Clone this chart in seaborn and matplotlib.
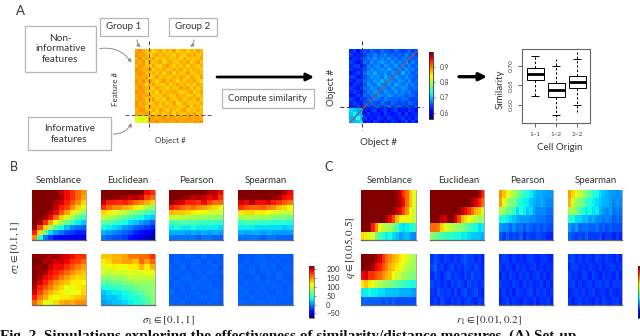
import numpy as np
import matplotlib
matplotlib.use("Agg")
import matplotlib.pyplot as plt
from matplotlib.cm import ScalarMappable
from matplotlib.colors import Normalize
from matplotlib.patches import FancyArrowPatch, Rectangle
import seaborn as sns

sns.set_theme(style="white")
plt.rcParams["font.family"] = ["Lato", "DejaVu Sans"]
plt.rcParams["mathtext.fontset"] = "stix"

# ---------- panel A matrices ----------
raw_features = [
 [78,80,77,74,76,72,75,78,73,76,74,79,72,75,77,73,76,74,78,75],
 [80,77,79,76,72,75,78,73,77,74,76,72,78,74,73,77,75,79,73,76],
 [77,81,76,78,75,79,72,76,74,78,73,75,77,72,79,74,76,73,75,78],
 [79,76,80,73,77,74,76,79,72,75,78,74,73,77,75,78,72,76,79,74],
 [76,79,78,75,73,78,74,72,77,79,75,73,76,74,78,72,77,75,73,76],
 [81,77,75,77,79,72,76,75,78,73,74,78,75,79,72,76,74,78,76,73],
 [78,80,79,74,75,77,73,78,72,76,79,72,77,73,75,79,73,74,77,75],
 [77,78,76,79,72,74,79,73,76,75,73,77,74,78,76,72,78,75,73,79],
 [80,76,81,75,78,76,72,77,79,74,78,75,72,76,73,77,75,79,74,72],
 [79,78,77,72,76,79,75,74,73,78,72,76,79,74,77,73,76,72,78,75],
 [76,81,78,77,74,73,78,76,75,72,77,74,73,79,75,78,72,77,74,76],
 [80,77,79,75,73,76,72,79,74,77,75,78,76,72,74,76,79,73,75,78],
 [78,79,76,78,77,74,75,73,78,76,72,74,79,75,77,73,74,78,72,76],
 [77,80,78,74,76,79,73,75,72,79,76,73,75,78,72,76,77,74,79,73],
 [81,76,79,76,72,75,78,74,77,73,75,79,72,74,78,75,73,76,74,77],
 [79,78,77,73,78,74,76,72,75,78,74,76,77,73,75,79,72,78,75,74],
 [77,80,80,75,74,77,73,79,76,72,78,75,73,76,79,74,76,73,77,75],
 [78,76,78,79,76,72,75,77,73,75,79,72,78,74,73,77,75,79,74,76],
 [66,65,67,66,78,79,77,78,80,77,78,79,76,78,77,79,78,76,79,77],
 [66,67,65,66,79,78,80,77,78,79,77,78,80,77,79,78,77,79,78,80],
]
raw_similarity = [
 [63,64,62,64,65,64,66,65,64,66,65,65,64,66,65,64,65,66,64,65],
 [64,62,63,63,64,66,65,67,65,66,67,65,66,65,66,65,67,65,66,64],
 [62,64,63,64,65,67,66,68,66,67,66,68,66,67,65,67,66,66,65,66],
 [64,63,62,63,66,65,68,66,67,68,67,66,68,66,67,66,68,65,67,65],
 [63,64,64,62,64,67,66,67,68,66,68,67,66,68,66,67,66,67,65,66],
 [64,62,63,64,65,66,68,66,67,68,66,69,67,66,68,66,68,66,67,65],
 [62,63,64,63,66,68,67,69,66,67,68,66,68,67,66,69,66,67,65,66],
 [64,64,62,63,65,66,68,67,68,66,69,67,66,68,67,66,68,66,66,65],
 [63,62,64,64,66,67,66,68,67,69,67,68,67,66,68,67,66,68,65,66],
 [62,64,63,62,65,68,67,66,69,67,66,68,66,69,67,66,68,66,67,65],
 [64,63,62,64,66,66,68,67,66,68,67,66,68,67,66,68,67,65,66,66],
 [63,64,63,62,65,67,66,68,67,66,68,67,66,68,66,67,66,67,65,65],
 [62,62,64,63,66,65,67,66,68,67,66,68,67,66,67,66,65,66,66,64],
 [64,63,62,64,64,66,65,67,66,65,67,66,65,66,65,66,66,65,64,65],
 [63,64,63,62,65,64,66,65,64,66,65,64,66,65,64,65,64,66,65,64],
 [62,63,64,63,64,65,64,65,66,64,65,66,64,65,66,64,65,64,64,65],
 [71,70,69,70,63,62,63,64,62,63,64,62,63,64,62,63,62,64,63,62],
 [70,72,70,69,62,64,62,63,63,62,64,63,62,63,64,62,64,62,63,63],
 [69,70,73,70,64,62,63,62,64,63,62,64,63,62,63,64,62,63,62,64],
 [70,69,70,71,62,63,62,64,63,62,63,62,64,63,62,63,64,62,64,62],
]

# ---------- panel A box plot ----------
box_groups = ["1~1", "1~2", "2~2"]
box1_vals = [0.6216, 0.6629, 0.6793, 0.6948, 0.7267]
box2_vals = [0.5603, 0.6207, 0.6379, 0.6552, 0.7172]
box3_vals = [0.5819, 0.6440, 0.6595, 0.6750, 0.7371]
cap_groups = ["1~1", "1~1", "1~2", "1~2", "2~2", "2~2"]
cap_vals = [0.6216, 0.7267, 0.5733, 0.7009, 0.5991, 0.7181]
box_ticks = [0.60, 0.65, 0.70]

# ---------- panel B ----------
b_sem_top = [
 [220,220,220,220,220,185,175,165,150,140],
 [220,220,220,220,220,190,175,165,150,135],
 [220,220,220,220,190,180,170,155,140,120],
 [220,220,220,200,185,170,160,140,120,105],
 [220,220,220,190,175,155,135,115,95,80],
 [220,220,190,175,150,120,100,85,65,55],
 [220,190,165,135,110,85,70,55,40,30],
 [195,160,120,90,60,45,30,15,10,5],
 [170,120,70,35,20,10,0,-5,-10,-10],
 [140,50,10,-5,-15,-20,-20,-25,-25,-30],
]
b_euc_top = [
 [220,220,220,220,220,220,220,220,175,165],
 [220,205,195,195,190,185,190,180,160,150],
 [185,170,170,165,170,160,150,140,130,120],
 [165,150,140,140,130,125,115,105,90,80],
 [120,115,105,100,95,85,75,70,60,50],
 [95,90,85,75,65,60,50,45,35,30],
 [70,65,55,50,45,35,30,20,15,5],
 [45,40,35,30,20,15,5,0,-5,-10],
 [25,20,15,10,5,0,-10,-15,-20,-30],
 [10,5,0,0,-5,-15,-20,-25,-35,-40],
]
b_pea_top = [
 [220,220,220,220,220,220,220,190,190,175],
 [220,210,195,195,185,190,185,175,180,165],
 [195,185,180,170,170,165,175,160,150,150],
 [170,160,150,145,150,140,135,125,120,110],
 [130,125,125,120,115,110,110,100,100,100],
 [95,95,90,90,85,80,85,80,80,75],
 [60,60,65,60,60,60,55,55,55,50],
 [40,45,40,40,45,40,40,40,40,35],
 [25,25,25,20,25,20,25,20,25,20],
 [10,10,10,10,10,5,10,10,5,5],
]
b_spe_top = [
 [220,220,220,220,220,220,220,220,190,175],
 [220,220,220,220,220,220,195,190,175,170],
 [180,175,190,175,175,180,170,165,155,145],
 [165,155,150,150,155,145,140,125,120,110],
 [115,120,120,115,115,110,105,100,95,100],
 [85,90,85,85,80,85,75,75,75,70],
 [55,60,60,55,55,55,50,50,50,45],
 [40,40,40,35,35,35,35,35,30,35],
 [25,20,25,25,20,25,20,20,20,20],
 [10,10,10,10,5,10,10,5,5,5],
]
b_sem_bot = [
 [220,195,195,190,195,185,180,175,165,165],
 [220,205,190,190,180,185,175,165,160,150],
 [220,195,205,185,175,175,165,155,145,135],
 [210,195,190,175,170,160,150,140,130,125],
 [205,190,175,170,160,145,135,125,120,120],
 [195,180,170,155,140,130,125,115,115,110],
 [190,170,155,145,130,120,110,105,115,120],
 [180,160,140,130,120,115,105,110,110,120],
 [170,145,130,115,110,115,115,120,125,130],
 [150,130,110,105,120,130,135,130,140,140],
]
b_euc_bot = [
 [125,125,130,130,135,145,145,150,150,165],
 [115,120,130,130,135,135,125,150,135,150],
 [105,110,115,110,110,115,115,130,115,130],
 [100,95,100,100,100,110,100,105,110,110],
 [80,80,85,85,90,95,95,95,95,95],
 [65,65,70,70,75,80,85,85,85,85],
 [45,50,55,55,60,65,70,75,75,80],
 [30,35,40,40,45,50,60,65,75,80],
 [25,30,30,35,40,45,45,55,65,75],
 [20,25,30,30,35,40,45,50,60,75],
]
b_pea_bot = [
 [3,5,2,6,4,1,7,2,5,3],
 [2,6,4,3,5,7,2,6,1,4],
 [5,3,7,2,6,4,5,3,6,2],
 [4,6,3,5,2,6,3,7,4,5],
 [6,2,5,7,4,3,6,2,5,1],
 [3,7,4,5,6,7,4,5,2,4],
 [5,4,6,2,7,3,5,6,4,3],
 [7,3,5,4,5,6,2,4,6,5],
 [4,6,3,6,2,5,7,3,5,4],
 [6,5,7,3,5,4,3,6,4,2],
]
b_spe_bot = [
 [2,4,3,6,5,2,6,3,5,4],
 [3,6,2,4,6,5,3,5,2,3],
 [6,3,5,3,7,4,6,2,5,4],
 [4,5,7,2,3,6,4,6,3,5],
 [5,2,4,6,1,5,3,7,4,2],
 [3,6,3,5,4,7,5,4,6,3],
 [6,4,5,3,6,3,6,5,2,5],
 [4,7,2,6,5,4,2,6,4,6],
 [5,3,6,4,3,6,5,3,6,3],
 [7,5,4,5,6,4,6,4,3,4],
]

# ---------- panel C ----------
c_sem_top = [
 [220,220,220,220,220,220,220,220,220,220,195,180,165,150,125,105],
 [220,220,220,220,220,220,220,220,220,220,195,190,175,150,125,105],
 [220,220,220,220,220,220,220,220,220,195,185,175,160,140,110,100],
 [220,220,220,220,220,220,220,190,175,160,130,115,105,115,110,95],
 [220,220,220,170,140,110,95,90,85,75,60,40,35,40,45,50],
 [120,115,100,110,70,60,50,40,45,35,30,20,25,30,20,15],
]
c_euc_top = [
 [220,220,220,220,220,220,220,220,220,220,220,220,220,220,190,170],
 [220,220,220,220,220,220,220,220,220,220,220,220,190,180,170,150],
 [220,220,220,220,220,220,220,220,195,185,175,165,150,130,125,105],
 [220,220,220,185,180,220,220,180,160,130,120,110,100,95,85,85],
 [150,150,145,120,105,100,90,85,80,75,70,60,50,45,35,40],
 [80,70,65,60,55,50,50,45,45,40,40,35,30,30,30,25],
]
c_pea_top = [
 [140,125,110,100,90,75,65,50,45,40,30,25,25,20,20,20],
 [135,105,90,75,75,60,45,40,40,30,25,20,25,20,15,15],
 [90,85,70,65,55,35,50,40,30,35,20,15,15,15,10,10],
 [45,45,40,35,30,25,20,20,20,15,15,10,10,10,5,5],
 [20,15,15,5,15,5,10,0,10,5,0,5,0,5,0,0],
 [5,-5,5,-5,0,-5,5,-10,0,-5,-5,0,-5,-5,-10,-10],
]
c_spe_top = [
 [135,120,105,95,85,75,60,50,45,35,30,25,20,20,15,20],
 [130,100,85,75,70,55,45,40,35,30,25,25,20,15,20,15],
 [85,90,75,60,50,40,45,35,40,25,20,15,20,10,15,10],
 [50,45,35,35,25,30,20,25,15,15,10,15,10,5,10,5],
 [20,10,20,5,10,10,5,5,10,0,5,0,5,0,0,0],
 [5,0,-5,0,-5,5,-5,-5,-5,0,-10,-5,-5,-10,-5,-10],
]
c_sem_bot = [
 [220,220,220,205,190,180,165,150,140,130,125,115,110,105,95,85],
 [220,220,205,190,175,170,155,145,130,125,115,110,100,95,85,85],
 [175,180,165,165,155,150,140,130,125,110,100,95,85,85,75,75],
 [115,125,115,105,95,90,85,80,75,70,65,60,55,50,45,45],
 [40,40,45,40,40,35,35,30,30,30,30,25,25,25,25,20],
 [5,5,5,5,5,5,0,5,0,5,0,0,0,0,0,0],
]
c_euc_bot = [
 [-7,1,-4,-9,-1,-7,-10,-3,-8,-1,3,-5,-2,-9,-4,-10],
 [-3,5,-7,-2,-9,-5,-1,-10,-4,-7,0,-3,-8,-1,-6,-9],
 [-9,-1,-5,-10,-3,1,-8,-4,-6,-10,-2,-7,1,-5,-3,-8],
 [0,-7,-3,-8,-4,-10,-2,-7,0,-5,-9,-1,-6,-3,-8,-5],
 [-5,-9,1,-4,-8,-3,-9,-1,-10,-3,1,-7,-4,0,-7,-10],
 [-8,-3,-10,-1,-6,-9,-4,-8,-3,-9,-5,-2,-7,-9,-2,-7],
]
c_pea_bot = [
 [-7,-2,-5,-10,-4,-9,-7,-11,-5,-3,-8,-10,-7,-4,-9,-11],
 [-4,-9,-3,-6,-10,-2,-8,-5,-11,-7,-4,-9,-5,-10,-6,-8],
 [-9,-5,-10,-2,-7,-11,-4,-8,-3,-10,-6,-2,-9,-5,-11,-7],
 [-3,-8,-6,-9,-4,-7,-10,-3,-8,-5,-9,-7,-4,-11,-5,-9],
 [-8,-4,-10,-5,-11,-3,-6,-9,-5,-2,-10,-5,-8,-3,-10,-6],
 [-11,-7,-2,-9,-5,-8,-10,-4,-7,-9,-3,-11,-5,-8,-4,-10],
]
c_spe_bot = [
 [-5,-1,-9,-4,-10,-3,-7,-11,-2,-6,-9,-4,-8,-10,-5,-9],
 [-9,-4,-2,-8,-5,-10,-3,-6,-9,-4,-11,-7,-3,-5,-9,-7],
 [-3,-8,-6,-10,-3,-5,-10,-2,-7,-11,-4,-8,-6,-10,-3,-10],
 [-7,-2,-10,-5,-9,-7,-4,-9,-5,-3,-8,-2,-10,-4,-7,-5],
 [-10,-6,-4,-8,-2,-11,-6,-3,-10,-7,-5,-9,-4,-8,-11,-6],
 [-5,-10,-7,-3,-9,-4,-8,-10,-4,-9,-2,-7,-10,-5,-3,-9],
]

b_titles = ["Semblance", "Euclidean", "Pearson", "Spearman"]
cbar_ticks = [-50, 0, 50, 100, 150, 200]
sim_ticks = [0.6, 0.7, 0.8, 0.9]

W, H = 640, 336
fig = plt.figure(figsize=(W / 100, H / 100), dpi=100, facecolor="white")


def ax_px(x0, y0, x1, y1):
    return fig.add_axes([x0 / W, 1 - y1 / H, (x1 - x0) / W, (y1 - y0) / H])


def panel(grid, rect):
    ax = ax_px(*rect)
    sns.heatmap(np.array(grid), ax=ax, cmap="jet", vmin=-50, vmax=200, cbar=False,
                xticklabels=False, yticklabels=False)
    ax.spines["bottom"].set_visible(True)
    ax.spines["right"].set_visible(True)
    ax.spines["bottom"].set_color("#666666")
    ax.spines["right"].set_color("#aaaaaa")
    ax.spines["bottom"].set_linewidth(0.9)
    ax.spines["right"].set_linewidth(0.7)
    return ax


# B and C heatmap panels
bx = [(31.7, 86), (100.7, 155), (169, 223), (238.3, 292.7)]
cx = [(361, 415.7), (430.3, 484.3), (498.7, 553.3), (568, 622.3)]
row_y = [(190, 240), (254.3, 305)]
b_grids = [[b_sem_top, b_euc_top, b_pea_top, b_spe_top], [b_sem_bot, b_euc_bot, b_pea_bot, b_spe_bot]]
c_grids = [[c_sem_top, c_euc_top, c_pea_top, c_spe_top], [c_sem_bot, c_euc_bot, c_pea_bot, c_spe_bot]]
for r, (y0, y1) in enumerate(row_y):
    for c in range(4):
        panel(b_grids[r][c], (bx[c][0], y0, bx[c][1], y1))
        panel(c_grids[r][c], (cx[c][0], y0, cx[c][1], y1))

# colour bars of B/C
for rect, show in [((309.3, 265.7, 314.3, 318.3), True), ((638.3, 265.7, 645, 318.3), False)]:
    cax = ax_px(*rect)
    cb = fig.colorbar(ScalarMappable(Normalize(-78, 220), "jet"), cax=cax)
    cb.outline.set_linewidth(0.4)
    cb.outline.set_edgecolor("#333333")
    cb.set_ticks(cbar_ticks if show else [])
    cb.ax.tick_params(length=1.5, width=0.4, labelsize=5.6, pad=7, colors="#333333", right=show)
    cb.ax.yaxis.set_tick_params(labelright=show)

# A: raw data heatmap
ax = ax_px(134.7, 49.3, 203.3, 123.3)
sns.heatmap(np.array(raw_features), ax=ax, cmap="jet", vmin=0, vmax=106, cbar=False,
            xticklabels=False, yticklabels=False)

# A: similarity heatmap with colour bar
ax = ax_px(349.3, 49.3, 418.3, 123.3)
cax = ax_px(429, 52.3, 433, 119)
n_sim = len(raw_similarity)
sns.heatmap(np.array(raw_similarity) / 100, ax=ax, cmap="jet", vmin=0.56, vmax=0.993, cbar_ax=cax,
            xticklabels=False, yticklabels=False, cbar_kws={"ticks": sim_ticks})
ax.plot([0, n_sim], [n_sim, 0], color="#8a5560", lw=0.9)
cax.tick_params(length=1.5, width=0.4, labelsize=4.8, pad=3, colors="#444444")
for s in cax.spines.values():
    s.set_visible(True)
    s.set_linewidth(0.4)

# A: box plot
ax = ax_px(522.3, 49.3, 590, 123.3)
groups = [g for g, vals in zip(box_groups, [box1_vals, box2_vals, box3_vals]) for _ in vals]
values = box1_vals + box2_vals + box3_vals
sns.boxplot(x=groups, y=values, order=box_groups, ax=ax, color="white", linecolor="black",
            linewidth=0.7, width=0.82, whis=np.inf, fliersize=0,
            whiskerprops={"linestyle": (0, (2.5, 2))}, capprops={"linewidth": 0},
            medianprops={"linewidth": 2.0, "color": "black"})
sns.scatterplot(x=cap_groups, y=cap_vals, marker="_", s=30, color="black", linewidth=0.7, ax=ax, zorder=5)
ax.set_xlim(-0.62, 2.6)
ax.set_ylim(0.552, 0.743)
ax.set_yticks(box_ticks, ["0.60", "0.65", "0.70"], rotation=90, va="center", fontsize=4.6, color="#444444")
ax.set_xticks(range(3), box_groups, fontsize=4.6, color="#444444")
ax.tick_params(axis="both", length=3, width=0.5, left=True, bottom=True, pad=3)
for s in ax.spines.values():
    s.set_visible(True)
    s.set_color("#666666")
    s.set_linewidth(0.8)

# overlay in pixel coordinates for annotation
ov = fig.add_axes([0, 0, 1, 1], facecolor="none")
ov.set_xlim(0, W)
ov.set_ylim(H, 0)
ov.axis("off")

TXT = "#333333"


def box(x0, y0, x1, y1, label, size=7.0):
    ov.add_patch(Rectangle((x0, y0), x1 - x0, y1 - y0, fc="white", ec="#b5b5b5", lw=0.9))
    ov.text((x0 + x1) / 2, (y0 + y1) / 2, label, ha="center", va="center", fontsize=size,
            color=TXT, linespacing=1.25)


box(100, 17.7, 148, 36, "Group 1")
box(169, 17.7, 217, 36, "Group 2")
box(24.7, 26, 96.3, 71.7, "Non-\ninformative\nfeatures", size=7.2)
box(28.3, 117.3, 110.7, 150, "Informative\nfeatures", size=7.2)
box(221.7, 88.7, 314, 108.3, "Compute similarity", size=6.8)

for a, b, rad in [((137, 37), (143, 48.5), 0.35), ((194, 37), (188, 48.5), -0.35),
                  ((97, 49), (133, 65), -0.35), ((110.7, 134), (133, 120.7), 0.35)]:
    ov.add_patch(FancyArrowPatch(a, b, connectionstyle=f"arc3,rad={rad}", arrowstyle="-|>",
                                 mutation_scale=5, color="#8c8c8c", lw=0.7))

for a, b, lw, ms in [((217, 77), (314, 77), 2.0, 11), ((459, 76.7), (487, 76.7), 2.4, 11)]:
    ov.add_patch(FancyArrowPatch(a, b, arrowstyle="-|>", mutation_scale=ms, color="black",
                                 lw=lw, shrinkA=0, shrinkB=0))

# dashed guides
dash = (0, (4, 2.5))
ov.plot([149.3, 149.3], [40.7, 130], color="#444444", lw=0.7, ls=dash)
ov.plot([125, 211.7], [115, 115], color="#555555", lw=0.7, ls=dash)
ov.plot([362.3, 362.3], [40.5, 130], color="#333333", lw=0.7, ls=dash)
ov.plot([340, 423], [107.3, 107.3], color="#333333", lw=0.7, ls=dash)

# text
ov.text(20, 11, "A", fontsize=9.5, ha="center", va="center", color=TXT)
ov.text(14, 167.3, "B", fontsize=9, ha="center", va="center", color=TXT)
ov.text(329, 167.3, "C", fontsize=9, ha="center", va="center", color=TXT)
ov.text(116, 89, "Feature #", fontsize=5.8, rotation=90, ha="center", va="center", color=TXT)
ov.text(170, 141, "Object #", fontsize=5.8, ha="center", va="center", color=TXT)
ov.text(379, 142.7, "Object #", fontsize=7, ha="center", va="center", color=TXT)
ov.text(331.7, 87.5, "Object #", fontsize=7, rotation=90, ha="center", va="center", color=TXT)
ov.text(559.5, 147, "Cell Origin", fontsize=7, ha="center", va="center", color=TXT)
ov.text(500.5, 89, "Similarity", fontsize=7, rotation=90, ha="center", va="center", color=TXT)
for xs, title in zip(bx, b_titles):
    ov.text(sum(xs) / 2, 180.7, title, fontsize=7.0, ha="center", va="center", color=TXT)
for xs, title in zip(cx, b_titles):
    ov.text(sum(xs) / 2 + 1, 180.7, title, fontsize=7.0, ha="center", va="center", color=TXT)
ov.text(15.7, 247.7, r"$\sigma_2 \in [0.1, 1]$", fontsize=8, rotation=90, ha="center", va="center", color=TXT)
ov.text(169, 320, r"$\sigma_1 \in [0.1, 1]$", fontsize=8, ha="center", va="center", color=TXT)
ov.text(350, 247.7, r"$q \in [0.05, 0.5]$", fontsize=8, rotation=90, ha="center", va="center", color=TXT)
ov.text(489, 320, r"$r_1 \in [0.01, 0.2]$", fontsize=8, ha="center", va="center", color=TXT)
ov.text(0, 339.5, "Fig. 2. Simulations exploring the effectiveness of similarity/distance measures. (A) Set-up",
        family="Liberation Serif", weight="bold", fontsize=11, ha="left", va="baseline", color="#111111",
        clip_on=False)

fig.savefig("out.png", dpi=100)
